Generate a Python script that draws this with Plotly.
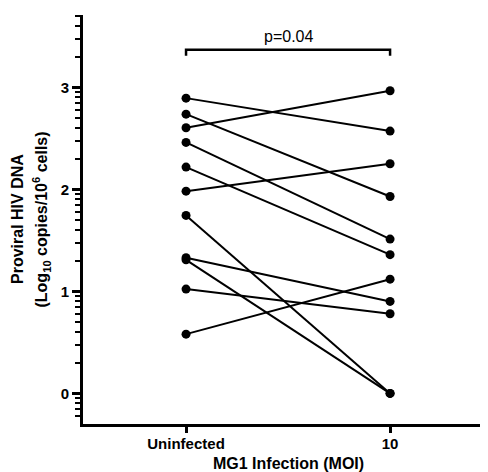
import plotly.graph_objects as go
import math

categories = ["Uninfected", "10"]
uninfected = [2.895, 2.605, 2.738, 2.461, 2.219, 1.983, 1.745, 1.330, 1.310, 1.023, 0.581]
moi10      = [2.572, 2.967, 1.931, 1.513, 1.360, 2.252, 0.000, 0.902, 0.000, 0.781, 1.120]
y_ticks = [0, 1, 2, 3]
p_text = "p=0.04"

font_family = "Liberation Sans, Arial, sans-serif"

fig = go.Figure()
for a, b in zip(uninfected, moi10):
    fig.add_trace(go.Scatter(
        x=categories, y=[a, b], mode="lines+markers",
        line=dict(color="black", width=2),
        marker=dict(color="black", size=9),
        showlegend=False, hoverinfo="skip", cliponaxis=False))

# significance bracket
fig.add_trace(go.Scatter(
    x=[categories[0], categories[0], categories[1], categories[1]],
    y=[3.31, 3.37, 3.37, 3.31], mode="lines",
    line=dict(color="black", width=2.5), showlegend=False, hoverinfo="skip"))

minor_vals = []
for d in range(-1, 4):
    for k in range(2, 10):
        v = d + math.log10(k)
        if -0.3 <= v <= 3.71:
            minor_vals.append(v)

# plot area: 83..488 px wide (405), 15..424 px tall (409); page body has 8px margin
L, T, W = 75, 7, 405

fig.add_annotation(x=0.5, xref="x", y=3.37, yref="y", yshift=3, text=p_text,
                   showarrow=False, yanchor="bottom",
                   font=dict(family=font_family, size=16, color="black"))

fig.add_annotation(x=(17.5 - 83) / W, xref="paper", xanchor="center", y=0.5, yref="paper",
                   text="Proviral HIV DNA", textangle=-90, showarrow=False,
                   font=dict(family=font_family, size=16, color="black", weight="bold"))
fig.add_annotation(x=(41 - 83) / W, xref="paper", xanchor="center", y=0.5, yref="paper",
                   text="(Log<sub>10</sub> copies/10<sup>6</sup> cells)", textangle=-90,
                   showarrow=False,
                   font=dict(family=font_family, size=16, color="black", weight="bold"))
fig.add_annotation(x=(288 - 83) / W, xref="paper", xanchor="center", y=0, yref="paper",
                   yshift=-(463 - 424), yanchor="middle",
                   text="MG1 Infection (MOI)", showarrow=False,
                   font=dict(family=font_family, size=16, color="black", weight="bold"))

fig.update_layout(
    width=480, height=464,
    margin=dict(l=L, r=0, t=T, b=48),
    paper_bgcolor="white", plot_bgcolor="white",
    font=dict(family=font_family, size=13, color="black"),
    xaxis=dict(
        type="category", range=[-0.505, 1.48], automargin=False,
        showline=True, linecolor="black", linewidth=3,
        ticks="outside", ticklen=6, tickwidth=3, tickcolor="black",
        ticklabelstandoff=-2,
        tickfont=dict(family=font_family, size=15, color="black", weight="bold"),
        showgrid=False, zeroline=False,
    ),
    yaxis=dict(
        range=[-0.3, 3.71], automargin=False,
        tickvals=y_ticks, ticktext=[str(t) for t in y_ticks],
        showline=True, linecolor="black", linewidth=3,
        ticks="outside", ticklen=8, tickwidth=3, tickcolor="black",
        tickfont=dict(family=font_family, size=15, color="black", weight="bold"),
        minor=dict(tickvals=minor_vals, ticks="outside", ticklen=5, tickwidth=2,
                   tickcolor="black", showgrid=False),
        showgrid=False, zeroline=False,
    ),
)

fig.write_html("out.html")
